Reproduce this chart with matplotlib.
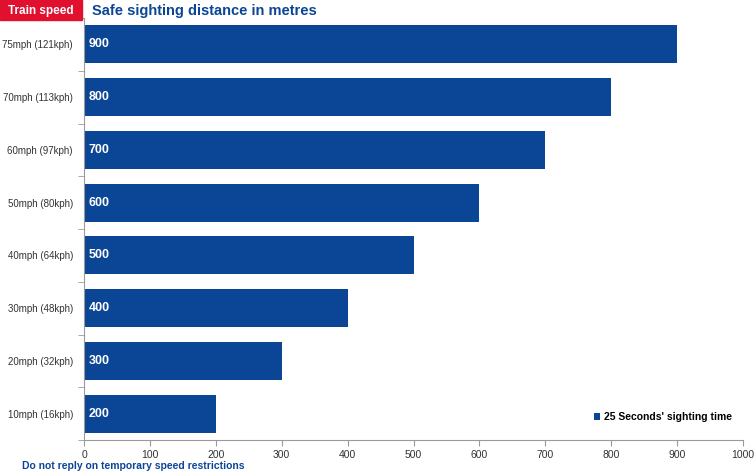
import matplotlib.pyplot as plt
from matplotlib.patches import Rectangle

speeds = ["10mph (16kph)", "20mph (32kph)", "30mph (48kph)", "40mph (64kph)",
          "50mph (80kph)", "60mph (97kph)", "70mph (113kph)", "75mph (121kph)"]
distances = [200, 300, 400, 500, 600, 700, 800, 900]
x_ticks = [0, 100, 200, 300, 400, 500, 600, 700, 800, 900, 1000]

BLUE = "#0b4595"
GREY = "#9a9a9a"

plt.rcParams["font.family"] = ["Liberation Sans", "DejaVu Sans"]

fig = plt.figure(figsize=(7.56, 4.76), dpi=100)
ax = fig.add_axes([84 / 756, 1 - 440 / 476, 659 / 756, 422 / 476])

y = list(range(len(speeds)))
bars = ax.barh(y, distances, height=0.72, color=BLUE, label="25 Seconds' sighting time")
for yi, d in zip(y, distances):
    ax.text(7, yi, str(d), color="white", fontweight="bold", fontsize=9,
            va="center", ha="left")

ax.set_xlim(0, 1000)
ax.set_ylim(-0.5, len(speeds) - 0.5)
ax.set_xticks(x_ticks)
ax.set_yticks(y)
ax.set_yticklabels(speeds)
ax.set_yticks([i - 0.5 for i in range(len(speeds) + 1)], minor=True)
ax.tick_params(axis="y", which="major", length=0, labelsize=7, pad=8, colors="#333333")
ax.tick_params(axis="y", which="minor", length=4, color=GREY)
ax.tick_params(axis="x", length=4, color=GREY, labelsize=7.5, labelcolor="#333333")
for s in ["top", "right"]:
    ax.spines[s].set_visible(False)
ax.spines["left"].set_color(GREY)
ax.spines["bottom"].set_color(GREY)

leg = ax.legend(loc="lower right", frameon=False, handlelength=0.6, handleheight=0.6,
                handletextpad=0.4, prop={"weight": "bold", "size": 7.5},
                bbox_to_anchor=(0.998, 0.02))

# header
fig.patches.append(Rectangle((0, 1 - 20 / 476), 82 / 756, 20 / 476,
                             transform=fig.transFigure, color="#e0102e"))
fig.text(41 / 756, 1 - 11 / 476, "Train speed", color="white", fontweight="bold",
         fontsize=8.5, ha="center", va="center")
fig.text(92 / 756, 1 - 11 / 476, "Safe sighting distance in metres", color=BLUE,
         fontweight="bold", fontsize=10.5, ha="left", va="center")
fig.text(22 / 756, 1 - 466 / 476, "Do not reply on temporary speed restrictions",
         color=BLUE, fontweight="bold", fontsize=7.5, ha="left", va="center")

fig.savefig("out.png", dpi=100)
